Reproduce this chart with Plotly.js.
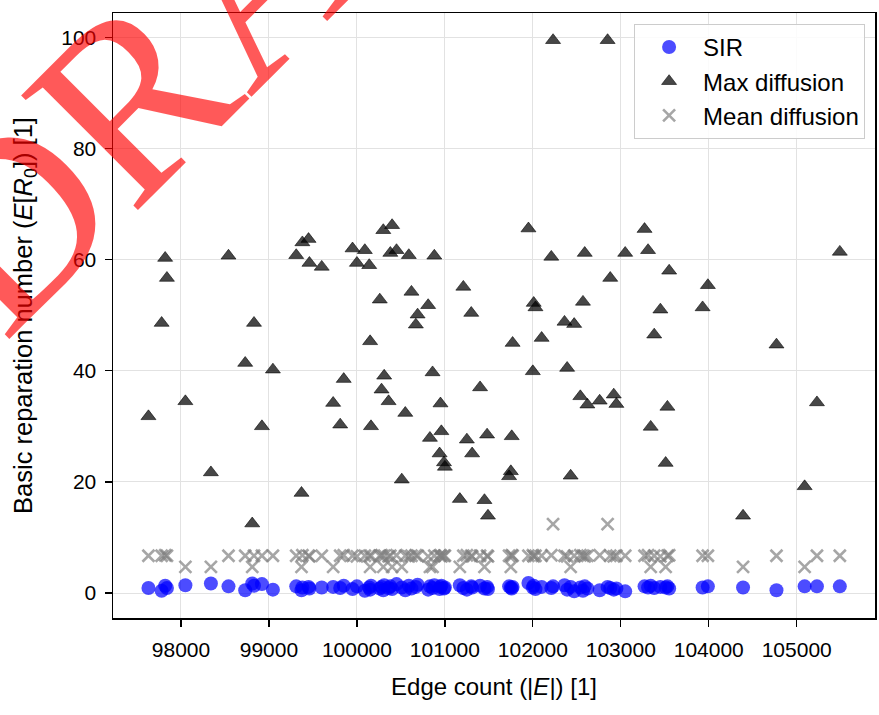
<!DOCTYPE html>
<html>
<head>
<meta charset="utf-8">
<script src="https://cdn.plot.ly/plotly-3.0.1.min.js"></script>
<style>html,body{margin:0;padding:0;background:#fff;}#chart{width:879px;height:715px;}</style>
</head>
<body>
<div id="chart"></div>
<script>
const edgeCount = [97630, 97780, 97820, 97840, 98050, 98340, 98540, 98730, 98810, 98830,
  98920, 99045, 99310, 99370, 99380, 99450, 99460, 99600, 99730, 99810,
  99850, 99950, 100000, 100090, 100140, 100150, 100160, 100260, 100280, 100300,
  100310, 100360, 100380, 100400, 100450, 100510, 100550, 100590, 100620, 100670,
  100690, 100810, 100830, 100860, 100880, 100940, 100950, 100960, 100990, 101000,
  101170, 101210, 101250, 101300, 101310, 101400, 101450, 101480, 101490, 101730,
  101750, 101760, 101770, 101950, 102000, 102010, 102030, 102100, 102210, 102230,
  102360, 102390, 102430, 102470, 102540, 102570, 102590, 102620, 102760, 102850,
  102880, 102920, 102950, 103050, 103270, 103310, 103340, 103380, 103450, 103510,
  103530, 103550, 103930, 103990, 104390, 104770, 105090, 105230, 105490];

const maxDiffusion = [31.8, 48.6, 60.3, 56.7, 34.5, 21.7, 60.7, 41.4, 12.5, 48.6,
  30.0, 40.2, 60.8, 18.0, 63.1, 63.7, 59.4, 58.7, 34.2, 30.3,
  38.5, 62.0, 59.4, 61.7, 59.0, 45.3, 30.0, 52.8, 36.6, 65.3,
  39.1, 34.5, 61.2, 66.2, 61.7, 20.4, 32.4, 60.8, 54.2, 48.3,
  50.1, 51.8, 27.9, 39.7, 60.7, 25.1, 34.1, 29.1, 23.5, 22.7,
  16.9, 55.1, 27.6, 50.4, 25.1, 37.0, 16.7, 28.5, 13.9, 21.0,
  21.9, 28.2, 45.0, 65.6, 39.9, 52.2, 51.4, 45.9, 60.5, 99.5,
  48.8, 40.5, 21.1, 48.4, 35.4, 52.4, 61.2, 33.9, 34.6, 99.5,
  56.7, 35.7, 34.0, 61.2, 65.5, 61.7, 29.9, 46.5, 51.0, 23.4,
  33.5, 58.0, 51.4, 55.4, 13.9, 44.7, 19.2, 34.3, 61.4];

const meanDiffusion = [6.7, 6.7, 6.8, 6.7, 4.7, 4.7, 6.7, 6.7, 4.7, 6.7,
  6.7, 6.7, 6.7, 4.7, 6.8, 6.7, 6.6, 6.7, 4.7, 6.7,
  6.8, 6.7, 6.6, 6.7, 6.7, 4.7, 6.7, 6.7, 6.8, 4.7,
  6.7, 6.6, 6.7, 4.7, 6.8, 4.7, 6.7, 6.6, 6.7, 6.8,
  6.7, 6.6, 4.7, 4.7, 6.7, 6.7, 6.8, 6.6, 6.7, 6.7,
  4.7, 6.7, 6.8, 6.7, 6.6, 6.7, 4.7, 6.7, 6.6, 6.7,
  4.7, 6.8, 6.7, 6.7, 6.8, 6.6, 6.7, 6.7, 6.8, 12.4,
  6.7, 6.6, 4.7, 6.7, 6.8, 6.7, 6.6, 6.7, 6.8, 12.4,
  6.7, 6.6, 6.7, 6.7, 6.7, 6.8, 4.7, 6.7, 6.6, 4.7,
  6.7, 6.8, 6.7, 6.7, 4.7, 6.7, 4.7, 6.7, 6.7];

const sirR0 = [0.9, 0.4, 1.3, 0.9, 1.4, 1.7, 1.2, 0.5, 1.7, 1.3,
  1.6, 0.6, 1.2, 0.5, 1.0, 1.1, 0.8, 1.0, 1.1, 0.9,
  1.3, 0.7, 1.2, 0.4, 1.0, 0.6, 1.3, 0.8, 1.1, 0.5,
  1.4, 0.9, 1.2, 0.7, 1.6, 1.0, 0.5, 1.3, 0.8, 1.1,
  1.5, 0.6, 1.2, 0.9, 1.4, 0.7, 1.1, 1.3, 0.8, 1.0,
  1.4, 0.9, 0.6, 1.2, 1.0, 1.3, 0.8, 1.1, 0.7, 1.2,
  1.0, 0.8, 1.1, 1.8, 1.0, 1.3, 0.7, 1.1, 0.9, 1.2,
  1.4, 0.6, 1.1, 0.3, 1.0, 0.4, 1.2, 0.8, 0.5, 1.1,
  0.9, 0.6, 0.8, 0.3, 1.2, 1.0, 1.3, 0.9, 1.1, 1.0,
  1.2, 0.8, 1.0, 1.2, 1.0, 0.5, 1.2, 1.2, 1.2];

const seriesNames = ['SIR', 'Max diffusion', 'Mean diffusion'];
const xTicks = [98000, 99000, 100000, 101000, 102000, 103000, 104000, 105000];
const yTicks = [0, 20, 40, 60, 80, 100];

const FONT = 'Liberation Sans, Arial, Helvetica, sans-serif';

const traces = [
  {
    x: edgeCount, y: sirR0, name: seriesNames[0], type: 'scatter', mode: 'markers',
    marker: {symbol: 'circle', size: 14, color: 'rgba(0,0,255,0.7)', line: {width: 0}}
  },
  {
    x: edgeCount, y: maxDiffusion, name: seriesNames[1], type: 'scatter', mode: 'markers',
    marker: {symbol: 'triangle-up', size: 13, color: 'rgba(0,0,0,0.72)', line: {width: 0.8, color: 'rgba(0,0,0,0.72)'}}
  },
  {
    x: edgeCount, y: meanDiffusion, name: seriesNames[2], type: 'scatter', mode: 'markers',
    marker: {symbol: 'x-thin', size: 12, color: 'rgba(128,128,128,0.7)', line: {width: 2.6, color: 'rgba(128,128,128,0.7)'}}
  }
];

const axisCommon = {
  showline: true, linecolor: '#000', linewidth: 1.5, mirror: true,
  ticks: 'outside', ticklen: 7, tickwidth: 1.3, tickcolor: '#000',
  showgrid: true, gridcolor: '#e2e2e2', gridwidth: 1, zeroline: false,
  tickfont: {family: FONT, size: 21, color: '#000'}
};

const layout = {
  width: 879, height: 715,
  margin: {l: 113, r: 4, t: 13, b: 97},
  paper_bgcolor: '#fff', plot_bgcolor: '#fff',
  font: {family: FONT, color: '#000'},
  showlegend: true,
  xaxis: Object.assign({}, axisCommon, {
    range: [97227, 105890], tickvals: xTicks, ticktext: xTicks.map(String),
    ticklabelstandoff: 5,
    title: {text: 'Edge count (|<i>E</i>|) [1]', font: {family: FONT, size: 24, color: '#000'}, standoff: 18}
  }),
  yaxis: Object.assign({}, axisCommon, {
    range: [-4.5, 104.4], tickvals: yTicks, ticktext: yTicks.map(String),
    ticklabelstandoff: 4,
    title: {text: 'Basic reparation number (<i>E</i>[<i>R</i><sub>0</sub>]) [1]', font: {family: FONT, size: 25.5, color: '#000'}, standoff: 21}
  }),
  legend: {
    x: 0.987, y: 0.982, xanchor: 'right', yanchor: 'top',
    bgcolor: 'rgba(255,255,255,0.85)', bordercolor: '#cccccc', borderwidth: 1,
    font: {family: FONT, size: 24, color: '#000'}, itemwidth: 58
  },
  annotations: [{
    text: 'DRAFT', xref: 'paper', yref: 'paper', x: 0.1588, y: 1.0314,
    xanchor: 'center', yanchor: 'middle', showarrow: false, textangle: -45,
    font: {family: 'Liberation Serif, Times New Roman, serif', size: 250, color: 'rgba(255,0,0,0.65)'}
  }]
};

Plotly.newPlot('chart', traces, layout, {displayModeBar: false, staticPlot: true});
</script>
</body>
</html>
